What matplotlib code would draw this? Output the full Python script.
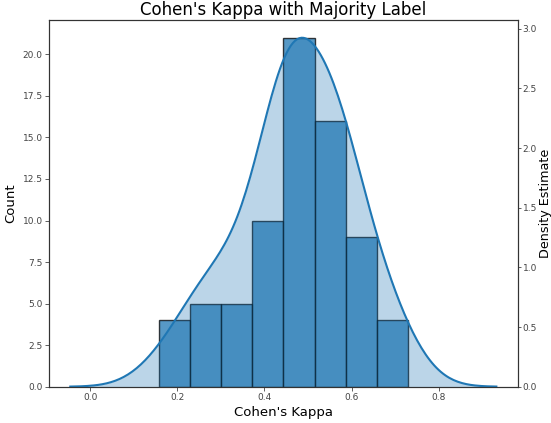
import numpy as np
import matplotlib
matplotlib.use("Agg")
import matplotlib.pyplot as plt

# Cohen's kappa values (74 samples) (counts 4,5,5,10,21,16,9,4)
# and the shape of the density curve
kappa_values = [
    0.157, 0.185, 0.226, 0.228,
    0.263, 0.269, 0.275, 0.281, 0.287,
    0.301, 0.303, 0.348, 0.364, 0.369,
    0.372, 0.373, 0.374, 0.375, 0.436, 0.438, 0.440, 0.441, 0.442, 0.443,
    0.447, 0.448, 0.450, 0.451, 0.452, 0.453, 0.455, 0.456, 0.457, 0.458, 0.459,
    0.461, 0.462, 0.463, 0.464, 0.466, 0.467, 0.468, 0.473, 0.511, 0.514,
    0.547, 0.548, 0.550, 0.551, 0.552, 0.554, 0.555, 0.556, 0.558, 0.559, 0.560,
    0.562, 0.563, 0.564, 0.566, 0.567,
    0.587, 0.588, 0.589, 0.590, 0.591, 0.651, 0.653, 0.655, 0.657,
    0.680, 0.686, 0.692, 0.7298,
]
n_bins = 8
kde_bandwidth = 0.0675
kde_cut = 3

title = "Cohen's Kappa with Majority Label"
xlabel = "Cohen's Kappa"
ylabel_left = "Count"
ylabel_right = "Density Estimate"

data = np.array(kappa_values)

# Gaussian KDE
grid = np.linspace(data.min() - kde_cut * kde_bandwidth, data.max() + kde_cut * kde_bandwidth, 200)
dens = np.exp(-0.5 * ((grid[:, None] - data[None, :]) / kde_bandwidth) ** 2).sum(axis=1)
dens /= (len(data) * kde_bandwidth * np.sqrt(2 * np.pi))

fig = plt.figure(figsize=(5.51, 4.23), dpi=100)
ax = fig.add_axes([0.0889, 0.0858, 0.8506, 0.8662])
ax2 = ax.twinx()

c0 = "#1f77b4"
ax.hist(data, bins=n_bins, color=c0, alpha=0.75, edgecolor="black", linewidth=1.0)
ax2.fill_between(grid, 0, dens, color=c0, alpha=0.3, linewidth=0)
ax2.plot(grid, dens, color=c0, linewidth=1.5)

ax.margins(x=0.05)
ax.set_ylim(0, None)
ax2.set_ylim(0, dens.max() * 1.05)

spine_c = "#333333"
for a in (ax, ax2):
    for s in a.spines.values():
        s.set_color(spine_c)
        s.set_linewidth(0.8)
ax.tick_params(labelsize=6.5, colors="#444444", length=2.9, width=0.6, pad=1.7)
ax2.tick_params(labelsize=6.5, colors="#444444", length=2.5, width=0.6, pad=1.0)

ax.set_title(title, fontsize=12, pad=4)
ax.set_xlabel(xlabel, fontsize=9.5, labelpad=3)
ax.set_ylabel(ylabel_left, fontsize=9.5, labelpad=4)
ax2.set_ylabel(ylabel_right, fontsize=9.2, labelpad=1.5)

fig.savefig("out.png", dpi=100)
